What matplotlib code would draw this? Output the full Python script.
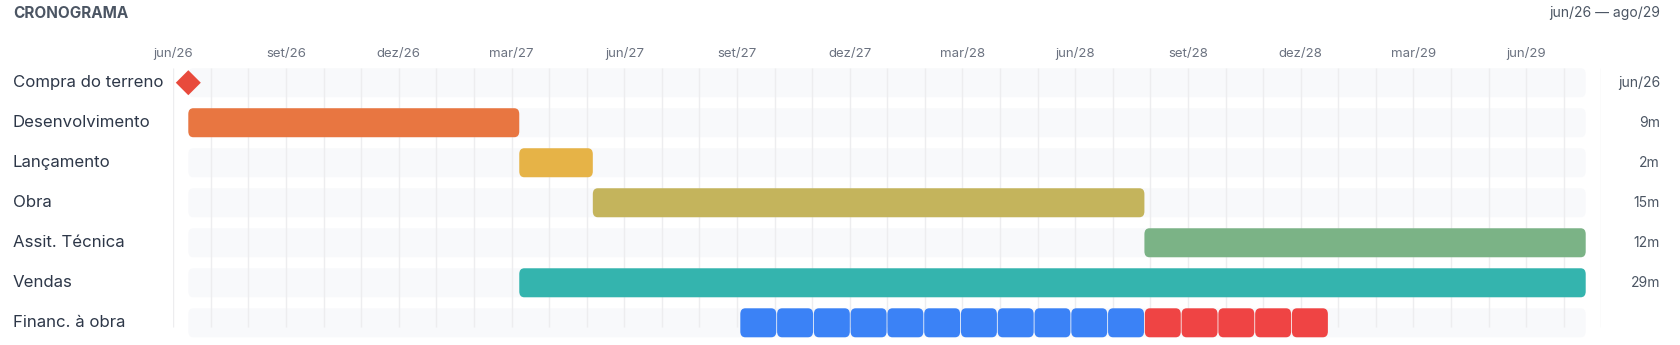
import matplotlib
matplotlib.use("Agg")
import matplotlib.pyplot as plt
from matplotlib.patches import FancyBboxPatch, Polygon
from matplotlib.transforms import blended_transform_factory

plt.rcParams['font.family'] = ['Inter', 'DejaVu Sans']

# data
phases = ['Compra do terreno', 'Desenvolvimento', 'Lançamento', 'Obra',
          'Assit. Técnica', 'Vendas', 'Financ. à obra']
starts = [0, 0, 9, 11, 26, 9]
durations = [0, 9, 2, 15, 12, 29]
colors = ['#E84A3C', '#E87641', '#E6B347', '#C4B45C', '#7BB386', '#34B4AE']
right_labels = ['jun/26', '9m', '2m', '15m', '12m', '29m', '']
fin_months = [15, 16, 17, 18, 19, 20, 21, 22, 23, 24, 25, 26, 27, 28, 29, 30]
fin_kind = ['obra'] * 11 + ['rep'] * 5
fin_colors = {'obra': '#3B82F6', 'rep': '#EF4444'}
n_months = 38
tick_months = [0, 3, 6, 9, 12, 15, 18, 21, 24, 27, 30, 33, 36]
tick_labels = ['jun/26', 'set/26', 'dez/26', 'mar/27', 'jun/27', 'set/27', 'dez/27',
               'mar/28', 'jun/28', 'set/28', 'dez/28', 'mar/29', 'jun/29']

W, H = 1680, 345
fig = plt.figure(figsize=(W / 100, H / 100), dpi=100)

def box(x0, x1, y_top, y_bot):
    return [x0 / W, 1 - y_bot / H, (x1 - x0) / W, (y_bot - y_top) / H]

row_top, row_bot = 62.7, 342.8
# three layers: row backgrounds, month grid, bars
ax_bg = fig.add_axes(box(188.3, 1585.7, row_top, row_bot))
ax_grid = fig.add_axes(box(173.3, 1601.3, row_top, row_bot))
ax_bar = fig.add_axes(box(188.3, 1585.7, row_top, row_bot))
for ax in (ax_bg, ax_grid, ax_bar):
    ax.set_ylim(len(phases) - 0.5, -0.5)
    ax.set_xlim(0, n_months)
    ax.patch.set_alpha(0)
    for s in ax.spines.values():
        s.set_visible(False)
    ax.set_yticks([])
    ax.set_xticks([])

px_x = 1397.4 / n_months
px_y = 280.1 / len(phases)
aspect = px_x / px_y

def rbox(ax, x, y, w, h, color, r_px):
    p = FancyBboxPatch((x, y - h / 2), w, h,
                       boxstyle="round,pad=0,rounding_size=%f" % (r_px / px_x),
                       mutation_aspect=1 / aspect,
                       facecolor=color, edgecolor='none', linewidth=0)
    ax.add_patch(p)

row_h = 29 / px_y
for i in range(len(phases)):
    rbox(ax_bg, 0, i, n_months, row_h, '#F8F9FB', 5)

# grid
ax_grid.vlines(range(n_months + 1), -0.3675, 6.1075, color='#EDEDEF', linewidth=1)
ax_grid.xaxis.tick_top()
ax_grid.set_xticks(tick_months)
ax_grid.set_xticklabels(tick_labels, fontsize=9.5, color='#6B7280')
ax_grid.tick_params(axis='x', length=0, pad=2)

# phases
for i in range(1, len(starts)):
    rbox(ax_bar, starts[i], i, durations[i], row_h, colors[i], 5)

# milestone
d = 12.5
cx, cy = starts[0], 0
ax_bar.add_patch(Polygon([(cx - d / px_x, cy), (cx, cy - d / px_y),
                          (cx + d / px_x, cy), (cx, cy + d / px_y)],
                         closed=True, facecolor=colors[0], edgecolor='none',
                         clip_on=False))

# financing segments
gap = 0.8 / px_x
for m, k in zip(fin_months, fin_kind):
    rbox(ax_bar, m + gap / 2, 6, 1 - gap, row_h, fin_colors[k], 5)

# labels
tr = blended_transform_factory(fig.transFigure, ax_bar.transData)
for i, name in enumerate(phases):
    ax_bar.text(13 / W, i, name, transform=tr, ha='left', va='center',
                fontsize=12.1, color='#2D3748')
    ax_bar.text(1660 / W, i, right_labels[i], transform=tr, ha='right', va='center',
                fontsize=10, color='#4B5563')

fig.text(13 / W, 1 - 13 / H, 'CRONOGRAMA', ha='left', va='center',
         fontsize=11, fontweight='bold', color='#4B5563')
fig.text(1660 / W, 1 - 13 / H, 'jun/26 — ago/29', ha='right', va='center',
         fontsize=10, color='#4B5563')

fig.savefig('out.png', dpi=100)
